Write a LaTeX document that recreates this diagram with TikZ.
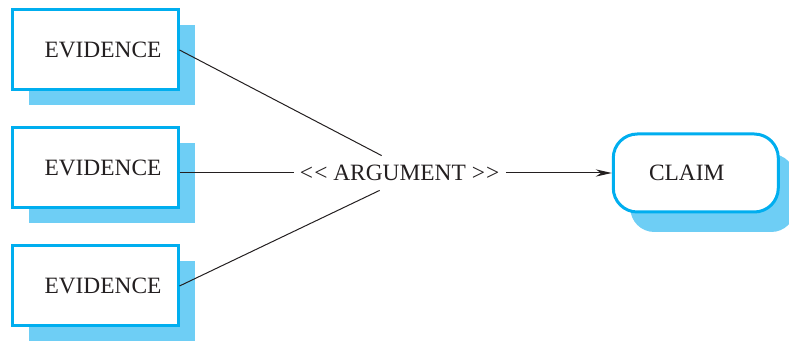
\documentclass[tikz,border=0pt]{standalone}
\usepackage{fontspec}
\setmainfont{Liberation Serif}
\usetikzlibrary{arrows.meta, positioning, shadows}
\definecolor{edgecyan}{RGB}{0,174,239}
\definecolor{shadowblue}{RGB}{110,206,245}
\definecolor{inkgrey}{RGB}{35,31,32}
\tikzset{
  evbox/.style={rectangle, draw=edgecyan, fill=white, line width=1.5pt,
    minimum width=83pt, minimum height=40pt, text=inkgrey,
    font=\fontsize{11.7}{14}\selectfont,
    execute at begin node=\hspace*{8pt},
    drop shadow={shadow xshift=8.5pt, shadow yshift=-7.5pt,
      fill=shadowblue, opacity=1}},
  claimbox/.style={rectangle, rounded corners=12pt, draw=edgecyan, fill=white,
    line width=1.5pt, minimum width=82.5pt, minimum height=39pt, text=inkgrey,
    font=\fontsize{11.7}{14}\selectfont,
    execute at end node=\hspace*{9pt},
    drop shadow={shadow xshift=8.5pt, shadow yshift=-10pt,
      fill=shadowblue, opacity=1}},
  argnode/.style={inner xsep=3pt, minimum height=17pt, text=inkgrey,
    font=\fontsize{11.7}{14}\selectfont},
  argline/.style={draw=inkgrey, line width=0.5pt},
  argflow/.style={-{Stealth[length=8pt, width=3.6pt]}, draw=inkgrey,
    line width=0.5pt},
}
\begin{document}
\begin{tikzpicture}[x=0.5pt, y=-0.5pt, node distance=17.5pt]
\useasboundingbox (0,0) rectangle (789,341);

\node[evbox] (ev1) at (95,50) {EVIDENCE};
\node[evbox, below=of ev1] (ev2) {EVIDENCE};
\node[evbox, below=of ev2] (ev3) {EVIDENCE};

\node[argnode, right=57pt of ev2, yshift=-2.5pt] (arg)
  {<\kern0.6pt< ARGUMENT >\kern0.6pt>};
\node[claimbox, right=53pt of arg] (claim) {CLAIM};

\draw[argline] (ev1.east) -- ([xshift=-9pt]arg.north);
\draw[argline] (ev2.east |- arg) -- (arg);
\draw[argline] (ev3.east) -- ([xshift=-10pt]arg.south);
\draw[argflow] (arg) -- (claim);
\end{tikzpicture}
\end{document}
